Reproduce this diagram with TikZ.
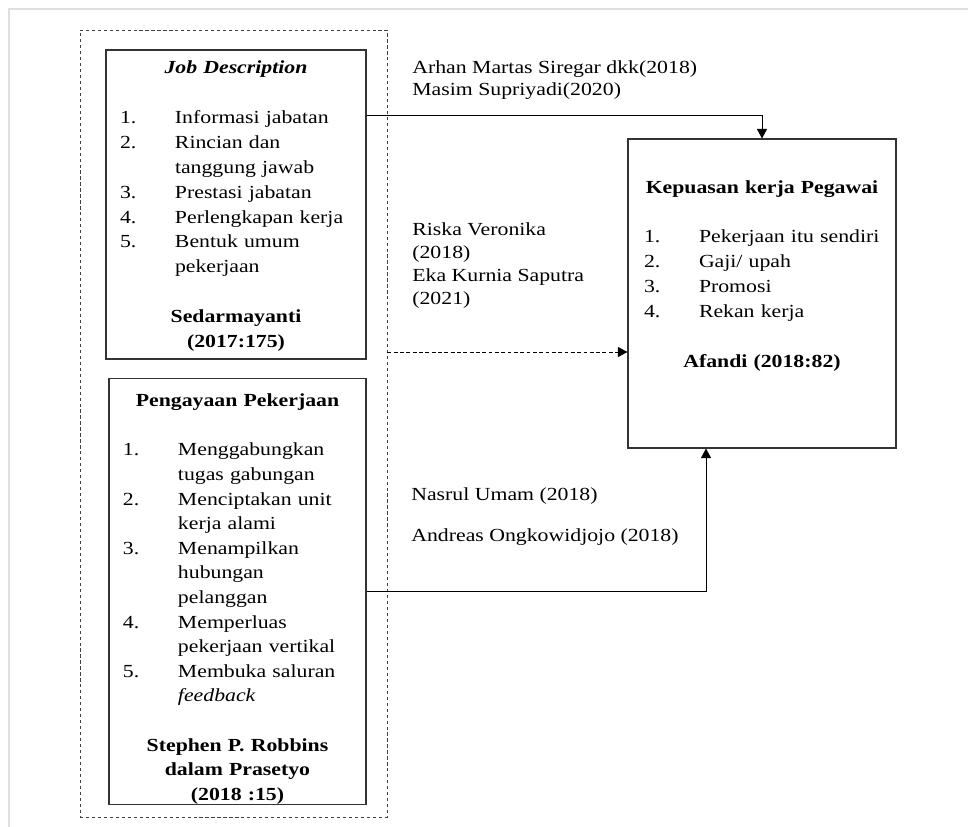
\documentclass[tikz,border=0pt]{standalone}
\usepackage{fontspec}
\setmainfont{Liberation Serif}[FakeStretch=1.18]
\usetikzlibrary{arrows.meta, positioning, calc}
\newcommand{\itemrow}[2]{\noindent\hangindent=1.1cm\hangafter=1\makebox[1.1cm][l]{#1}#2\par}

\begin{document}
\begin{tikzpicture}[
  box/.style={draw=black!80, line width=0.6pt, align=left, inner xsep=0pt, inner ysep=0pt, font=\fontsize{10.5}{14.2}\selectfont},
  cite/.style={anchor=north west, inner sep=0pt, align=left, font=\fontsize{10.5}{12.5}\selectfont},
  arrow/.style={-{Triangle[length=1.9mm,width=2mm]}, line width=0.5pt},
  dasharrow/.style={arrow, dash pattern=on 2.2pt off 1.4pt}
]
\useasboundingbox (0,0) rectangle (19.36,-16.54);
\draw[black!12, line width=0.8pt] (19.36,-0.18) -- (0.18,-0.18) -- (0.18,-16.54);
\node[draw=black!75, dash pattern=on 1.8pt off 1.6pt, line width=0.45pt, minimum width=6.14cm, minimum height=15.74cm] at (4.67,-8.47) (frame) {};
\node[box, text width=4.64cm, minimum width=5.20cm, minimum height=6.18cm] at (4.72,-4.09) (jobdesc) {%
  {\centering\rule{0pt}{0.32cm}\textbf{\textit{Job Description}}\par}
  \vspace{\baselineskip}
  \itemrow{1.}{Informasi jabatan}
  \itemrow{2.}{Rincian dan\newline tanggung jawab}
  \itemrow{3.}{Prestasi jabatan}
  \itemrow{4.}{Perlengkapan kerja}
  \itemrow{5.}{Bentuk umum\newline pekerjaan}
  \vspace{\baselineskip}
  {\centering\textbf{Sedarmayanti\\(2017:175)}\par}};
\node[box, font=\fontsize{10.5}{14}\selectfont, text width=4.58cm, minimum width=5.14cm, minimum height=8.50cm] at (4.75,-11.83) (enrich) {%
  {\centering\rule{0pt}{0.56cm}\textbf{Pengayaan Pekerjaan}\par}
  \vspace{\baselineskip}
  \itemrow{1.}{Menggabungkan\newline tugas gabungan}
  \itemrow{2.}{Menciptakan unit\newline kerja alami}
  \itemrow{3.}{Menampilkan\newline hubungan\newline pelanggan}
  \itemrow{4.}{Memperluas\newline pekerjaan vertikal}
  \itemrow{5.}{Membuka saluran\newline \textit{feedback}}
  \vspace{\baselineskip}
  {\centering\textbf{Stephen P. Robbins\\dalam Prasetyo\\(2018 :15)}\par}};
\node[box, text width=4.72cm, minimum width=5.36cm, minimum height=6.18cm] at (15.24,-5.87) (satisf) {%
  {\centering\textbf{Kepuasan kerja Pegawai}\par}
  \vspace{\baselineskip}
  \itemrow{1.}{Pekerjaan itu sendiri}
  \itemrow{2.}{Gaji/ upah}
  \itemrow{3.}{Promosi}
  \itemrow{4.}{Rekan kerja}
  \vspace{\baselineskip}
  {\centering\textbf{Afandi (2018:82)}\rule[-0.78cm]{0pt}{0.78cm}\par}};
\node[cite] at (8.24,-1.21) (citeA) {Arhan Martas Siregar dkk(2018)\\Masim Supriyadi(2020)};
\node[cite, font=\fontsize{10.5}{13.2}\selectfont] at (8.24,-4.44) (citeB) {Riska Veronika\\(2018)\\Eka Kurnia Saputra\\(2021)};
\node[cite, font=\fontsize{10.5}{23.3}\selectfont] at (8.22,-9.75) (citeC) {Nasrul Umam (2018)\\Andreas Ongkowidjojo (2018)};
\coordinate (jobout) at ([yshift=1.79cm]jobdesc.east);
\coordinate (dashin) at ([yshift=-1.17cm]satisf.west);
\coordinate (enrichin) at ([xshift=-1.12cm]satisf.south);
\draw[arrow] (jobout) -| (satisf.north);
\draw[dasharrow] (frame.east |- dashin) -- (dashin);
\draw[arrow] (enrich.east) -| (enrichin);
\end{tikzpicture}
\end{document}
